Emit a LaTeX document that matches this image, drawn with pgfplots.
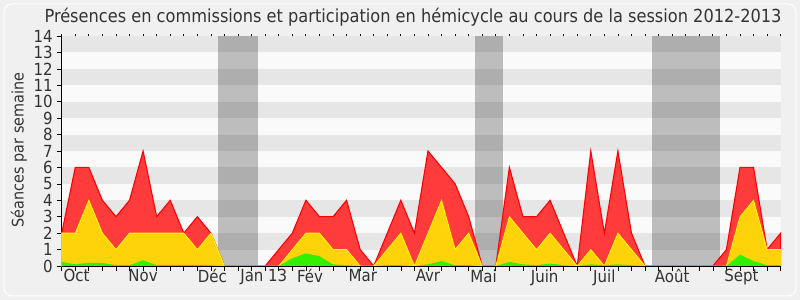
\documentclass[border=0pt]{standalone}
\usepackage{fontspec}
\setmainfont{DejaVu Sans Condensed}
\usepackage{pgfplots}
\usepackage{pgfplotstable}
\pgfplotsset{compat=1.18}
\definecolor{bgc}{HTML}{F0F0F0}
\definecolor{plotbg}{HTML}{FAFAFA}
\definecolor{band}{HTML}{E6E6E6}
\definecolor{redfill}{HTML}{FF3B3B}
\definecolor{redline}{HTML}{FF0000}
\definecolor{yelfill}{HTML}{FFD30A}
\definecolor{yelline}{HTML}{FFFF00}
\definecolor{grnfill}{HTML}{33F000}
\definecolor{txt}{HTML}{333333}

\pgfplotstableread{
i tot com grn
0 2 2 0.25
1 6 2 0.10
2 6 4 0.20
3 4 2 0.18
4 3 1 0.06
5 4 2 0.05
6 7 2 0.35
7 3 2 0.05
8 4 2 0.05
9 2 2 0.05
10 3 1 0.05
11 2 2 0.05
12 0 0 0
13 0 0 0
14 0 0 0
15 0 0 0
16 1 0 0
17 2 1 0.47
18 4 2 0.77
19 3 2 0.60
20 3 1 0.10
21 4 1 0.05
22 1 0 0
23 0 0 0
24 2 1 0.05
25 4 2 0.05
26 2 0 0
27 7 2 0.10
28 6 4 0.30
29 5 1 0.05
30 3 2 0.05
31 0 0 0
32 0 0 0
33 6 3 0.25
34 3 2 0.10
35 3 1 0.05
36 4 2 0.15
37 2 1 0.05
38 0 0 0
39 7 1 0.10
40 2 0 0.05
41 7 2 0.10
42 2 1 0.05
43 0 0 0
44 0 0 0
45 0 0 0
46 0 0 0
47 0 0 0
48 0 0 0
49 1 0 0
50 6 3 0.70
51 6 4 0.30
52 1 1 0.05
53 2 1 0.05
}\datatable

\begin{document}
\begin{tikzpicture}[x=0.75pt,y=0.75pt]
\fill[bgc] (0,0) rectangle (800,300);
\draw[white, line width=0.75pt, rounded corners=6pt] (4,4) rectangle (796,296);
\node[txt, font=\fontsize{13.5}{15}\selectfont] at (413,283) {Présences en commissions et participation en hémicycle au cours de la session 2012-2013};
\node[txt, rotate=90, font=\fontsize{12}{14}\selectfont] at (19,150) {Séances par semaine};
\begin{axis}[
  at={(46.275pt,25.5pt)}, anchor=south west,
  scale only axis, width=539.25pt, height=172.5pt,
  xmin=0, xmax=53, ymin=0, ymax=14,
  clip=false,
  axis background/.style={fill=plotbg},
  axis x line*=bottom, axis y line*=left,
  axis line style={black, line width=0.6pt, -},
  tick align=outside,
  major tick length=3.75pt,
  tick style={black, line width=0.5pt},
  ytick={0,...,14},
  xtick={0,...,53},
  xticklabels={},
  extra x ticks={1.1,6,11.1,14.9,18.3,22.2,27,31.1,35.6,40,45,50.1},
  extra x tick labels={Oct,Nov,Déc,Jan 13,Fév,Mar,Avr,Mai,Juin,Juil,Août,Sept},
  extra x tick style={major tick length=0pt},
  /pgf/number format/assume math mode=true,
  ticklabel style={txt, font=\fontsize{12.5}{13}\selectfont},
  yticklabel style={xshift=0.5pt},
  xticklabel style={yshift=1pt},
]
\fill[band] (axis cs:0,1) rectangle (axis cs:53,2);
\fill[band] (axis cs:0,3) rectangle (axis cs:53,4);
\fill[band] (axis cs:0,5) rectangle (axis cs:53,6);
\fill[band] (axis cs:0,7) rectangle (axis cs:53,8);
\fill[band] (axis cs:0,9) rectangle (axis cs:53,10);
\fill[band] (axis cs:0,11) rectangle (axis cs:53,12);
\fill[band] (axis cs:0,13) rectangle (axis cs:53,14);
\fill[black, opacity=0.245] (axis cs:11.5,0) rectangle (axis cs:14.5,14);
\fill[black, opacity=0.245] (axis cs:30.5,0) rectangle (axis cs:32.5,14);
\fill[black, opacity=0.245] (axis cs:43.5,0) rectangle (axis cs:48.5,14);
\pgfplotsinvokeforeach{0,...,53}{\draw[black, line width=0.6pt] (axis cs:#1,14) -- ++(0,1.2pt);}
\addplot[draw=redline, fill=redfill, line width=0.8pt] table[x=i, y=tot] {\datatable} \closedcycle;
\addplot[draw=yelline, fill=yelfill, line width=0.6pt] table[x=i, y=com] {\datatable} \closedcycle;
\addplot[draw=none, fill=grnfill] table[x=i, y=grn] {\datatable} \closedcycle;
\draw[black, line width=0.6pt] (axis cs:0,0) -- (axis cs:53,0);
\end{axis}
\end{tikzpicture}
\end{document}
